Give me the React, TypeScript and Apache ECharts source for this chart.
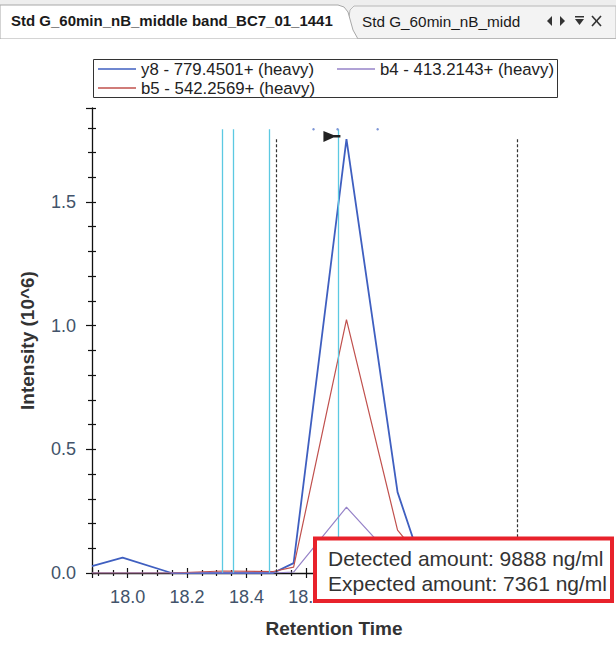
import React, { useEffect, useRef } from "react";
import * as echarts from "echarts";

// ---- data ----
const times = [17.88, 17.983, 18.148, 18.32, 18.49, 18.559, 18.737, 18.909, 19.0, 19.17, 19.34, 19.51];
const y8Values = [0.028, 0.062, 0.0, 0.0, 0.0, 0.04, 1.754, 0.327, 0.0, 0.0, 0.0, 0.0];
const b5Values = [0.0, 0.0, 0.0, 0.008, 0.006, 0.024, 1.024, 0.173, 0.04, 0.0, 0.0, 0.0];
const b4Values = [0.0, 0.0, 0.0, 0.0, 0.0, 0.004, 0.266, 0.04, 0.0, 0.0, 0.0, 0.0];
const seriesNames = ["y8 - 779.4501+ (heavy)", "b4 - 413.2143+ (heavy)", "b5 - 542.2569+ (heavy)"];
const cyanLines = [18.32, 18.357, 18.478, 18.71];
const cyanTop = 1.794;
const dashedLines = [18.502, 19.313];
const dashedTop = 1.754;
const apexFlag = [18.688, 1.765];
const boundaryMarks = [18.626, 18.707, 18.842];
const lastVisibleXLabel = 18.6; // labels further right are hidden behind the annotation box
const xTitle = "Retention Time";
const yTitle = "Intensity (10^6)";
const tabTitles = ["Std G_60min_nB_middle band_BC7_01_1441", "Std G_60min_nB_midd"];
const boxLines = ["Detected amount: 9888 ng/ml", "Expected amount: 7361 ng/ml"];

const FONT = "'Liberation Sans', Arial, sans-serif";
const COLORS = { y8: "#3f5fc0", b4: "#9683c8", b5: "#c0504d" };
const LABEL_COLOR = "#42536a";

export default function App() {
  const ref = useRef<HTMLDivElement>(null);
  useEffect(() => {
    if (!ref.current) return;
    const chart = echarts.init(ref.current, undefined, { renderer: "svg" });
    const pts = (vals: number[]) => times.map((t, i) => [t, vals[i]]);
    const grid = { left: 92, right: 40, top: 108, bottom: 80 };
    const xBase = {
      type: "value" as const,
      min: 17.88,
      max: 19.51,
      splitNumber: 8,
      splitLine: { show: false },
    };
    const yBase = {
      type: "value" as const,
      min: 0,
      max: 1.88,
      splitNumber: 4,
      splitLine: { show: false },
    };
    const option: any = {
      animation: false,
      backgroundColor: "#ffffff",
      grid: [grid, grid],
      xAxis: [
        {
          ...xBase,
          gridIndex: 0,
          position: "bottom",
          axisLine: { show: true, lineStyle: { color: "#111", width: 1.3 } },
          axisTick: { show: true, inside: false, length: 5, lineStyle: { color: "#111", width: 1.2 } },
          minorTick: { show: true, splitNumber: 4, length: 3, lineStyle: { color: "#111", width: 1.2 } },
          axisLabel: {
            showMinLabel: false,
            showMaxLabel: false,
            margin: 15,
            fontSize: 18,
            fontFamily: FONT,
            color: LABEL_COLOR,
            formatter: (v: number) => (v > lastVisibleXLabel + 0.01 ? "" : v.toFixed(1)),
          },
          name: xTitle,
          nameLocation: "middle",
          nameGap: 46,
          nameTextStyle: { fontSize: 19, fontWeight: "bold", color: "#333", fontFamily: FONT },
        },
        {
          ...xBase,
          gridIndex: 1,
          position: "bottom",
          axisLine: { show: false },
          axisTick: { show: true, inside: true, length: 5, lineStyle: { color: "#111", width: 1.2 } },
          minorTick: { show: true, splitNumber: 4, length: 3, lineStyle: { color: "#111", width: 1.2 } },
          axisLabel: { show: false },
        },
      ],
      yAxis: [
        {
          ...yBase,
          gridIndex: 0,
          position: "left",
          axisLine: { show: true, lineStyle: { color: "#111", width: 1.3 } },
          axisTick: { show: true, inside: false, length: 6, lineStyle: { color: "#111", width: 1.2 } },
          minorTick: { show: true, splitNumber: 5, length: 4, lineStyle: { color: "#111", width: 1.2 } },
          axisLabel: {
            showMaxLabel: false,
            margin: 16,
            fontSize: 18,
            fontFamily: FONT,
            color: LABEL_COLOR,
            formatter: (v: number) => v.toFixed(1),
          },
          name: yTitle,
          nameLocation: "middle",
          nameGap: 55,
          nameRotate: 90,
          nameTextStyle: { fontSize: 19, fontWeight: "bold", color: "#333", fontFamily: FONT },
        },
        {
          ...yBase,
          gridIndex: 1,
          position: "left",
          axisLine: { show: false },
          axisTick: { show: true, inside: true, length: 4, lineStyle: { color: "#111", width: 1.2 } },
          minorTick: { show: true, splitNumber: 5, length: 4, lineStyle: { color: "#111", width: 1.2 } },
          axisLabel: { show: false },
        },
      ],
      legend: [
        { data: [seriesNames[0]], left: 98, top: 60.5 },
        { data: [seriesNames[1]], left: 337, top: 60.5 },
        { data: [seriesNames[2]], left: 98, top: 79.5 },
      ].map((l) => ({
        ...l,
        padding: 0,
        icon: "rect",
        itemWidth: 38,
        itemHeight: 1.6,
        selectedMode: false,
        textStyle: { fontSize: 16.8, fontFamily: FONT, color: "#222" },
      })),
      series: [
        {
          name: seriesNames[0],
          type: "line",
          data: pts(y8Values),
          symbol: "none",
          color: COLORS.y8,
          lineStyle: { width: 1.8, color: COLORS.y8 },
          z: 3,
          markLine: {
            silent: true,
            symbol: ["none", "none"],
            label: { show: false },
            lineStyle: { color: "#5cc9e2", width: 1.3, type: "solid" },
            data: cyanLines.map((t) => [{ coord: [t, cyanTop] }, { coord: [t, 0] }]),
          },
          markPoint: {
            silent: true,
            label: { show: false },
            data: [
              {
                coord: apexFlag,
                symbol: "path://M0,0 L10,4 L17,4 L17,6.5 L10,6.5 L0,11 Z",
                symbolSize: [17, 11],
                itemStyle: { color: "#222" },
              },
              ...boundaryMarks.map((t) => ({
                coord: [t, cyanTop],
                symbol: "circle",
                symbolSize: 2.5,
                itemStyle: { color: "#7d95d6" },
              })),
            ],
          },
        },
        {
          name: seriesNames[2],
          type: "line",
          data: pts(b5Values),
          symbol: "none",
          color: COLORS.b5,
          lineStyle: { width: 1.2, color: COLORS.b5 },
          z: 4,
          markLine: {
            silent: true,
            symbol: ["none", "none"],
            label: { show: false },
            lineStyle: { color: "#333", width: 1.2, type: [3, 2] },
            data: dashedLines.map((t) => [{ coord: [t, dashedTop] }, { coord: [t, 0] }]),
          },
        },
        {
          name: seriesNames[1],
          type: "line",
          data: pts(b4Values),
          symbol: "none",
          color: COLORS.b4,
          lineStyle: { width: 1.2, color: COLORS.b4 },
          z: 5,
        },
      ],
      graphic: [
        // tab strip
        { type: "rect", shape: { x: 0, y: 0, width: 616, height: 39 }, style: { fill: "#eeeeee" }, z: 10 },
        {
          type: "polygon",
          shape: { points: [[346, 39], [350, 10], [354, 6], [616, 6], [616, 39]] },
          style: { fill: "#f3f3f3", stroke: "#b8b8b8", lineWidth: 1 },
          z: 11,
        },
        {
          type: "polygon",
          shape: {
            points: [[0, 39], [0, 5], [338, 5], [344, 7], [348, 12], [353, 30], [358, 39]],
          },
          style: { fill: "#ffffff", stroke: "#a8a8a8", lineWidth: 1 },
          z: 12,
        },
        { type: "line", shape: { x1: 357, y1: 38.5, x2: 616, y2: 38.5 }, style: { stroke: "#b8b8b8", lineWidth: 1 }, z: 12 },
        { type: "rect", shape: { x: 0, y: 39, width: 616, height: 6 }, style: { fill: "#ffffff" }, z: 12 },
        {
          type: "text",
          x: 11,
          y: 20,
          style: { text: tabTitles[0], fontSize: 15, fontWeight: "bold", fontFamily: FONT, fill: "#1a1a1a", verticalAlign: "middle" },
          z: 13,
        },
        {
          type: "text",
          x: 362,
          y: 21,
          style: { text: tabTitles[1], fontSize: 15.3, fontFamily: FONT, fill: "#1a1a1a", verticalAlign: "middle" },
          z: 13,
        },
        { type: "polygon", shape: { points: [[547, 21], [552, 16], [552, 26]] }, style: { fill: "#333" }, z: 13 },
        { type: "polygon", shape: { points: [[565, 21], [560, 16], [560, 26]] }, style: { fill: "#333" }, z: 13 },
        { type: "rect", shape: { x: 575, y: 16, width: 9, height: 1.5 }, style: { fill: "#333" }, z: 13 },
        { type: "polygon", shape: { points: [[575, 19], [584, 19], [579.5, 25]] }, style: { fill: "#333" }, z: 13 },
        { type: "line", shape: { x1: 592, y1: 16, x2: 601, y2: 26 }, style: { stroke: "#333", lineWidth: 1.6 }, z: 13 },
        { type: "line", shape: { x1: 601, y1: 16, x2: 592, y2: 26 }, style: { stroke: "#333", lineWidth: 1.6 }, z: 13 },
        // legend frame
        {
          type: "rect",
          shape: { x: 93.5, y: 59.5, width: 464, height: 38 },
          style: { fill: "none", stroke: "#333", lineWidth: 1 },
          z: 1,
        },
        // red annotation box
        {
          type: "rect",
          shape: { x: 315, y: 538.5, width: 297, height: 62.5 },
          style: { fill: "#ffffff", stroke: "#e8222b", lineWidth: 4 },
          z: 20,
        },
        {
          type: "text",
          x: 328,
          y: 558,
          style: { text: boxLines[0], fontSize: 21, fontFamily: FONT, fill: "#333", verticalAlign: "middle" },
          z: 21,
        },
        {
          type: "text",
          x: 328,
          y: 583,
          style: { text: boxLines[1], fontSize: 21, fontFamily: FONT, fill: "#333", verticalAlign: "middle" },
          z: 21,
        },
      ],
    };
    chart.setOption(option);
    return () => chart.dispose();
  }, []);
  return <div ref={ref} style={{ position: "fixed", left: 0, top: 0, width: 616, height: 653 }} />;
}
